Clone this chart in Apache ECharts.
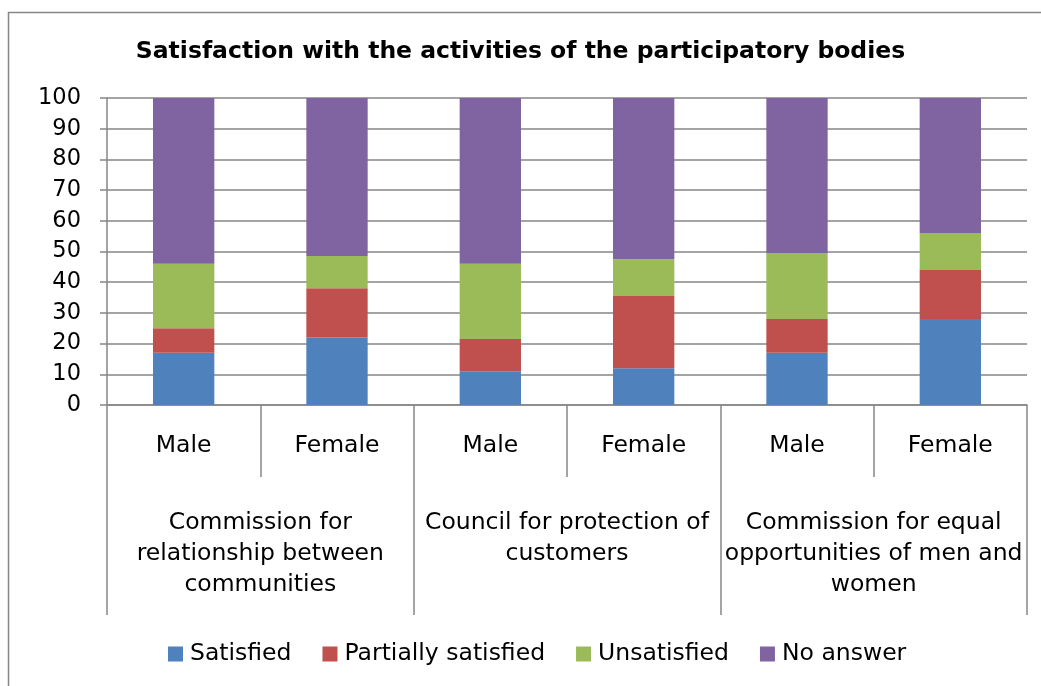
<!DOCTYPE html>
<html>
<head>
<meta charset="utf-8">
<script src="https://cdn.jsdelivr.net/npm/echarts@6/dist/echarts.min.js"></script>
<style>
  html, body { margin: 0; padding: 0; background: #fff; }
  #chart { width: 1041px; height: 686px; }
</style>
</head>
<body>
<div id="chart"></div>
<script>
var genders = ['Male', 'Female', 'Male', 'Female', 'Male', 'Female'];
var bodies = [
    'Commission for\nrelationship between\ncommunities',
    'Council for protection of\ncustomers',
    'Commission for equal\nopportunities of men and\nwomen'
];
var yTicks = [0, 10, 20, 30, 40, 50, 60, 70, 80, 90, 100];

var satisfied = [17, 22, 11, 12, 17, 28];
var partially = [8, 16, 10.5, 23.5, 11, 16];
var unsatisfied = [21, 10.5, 24.5, 12, 21.5, 12];
var noAnswer = [54, 51.5, 54, 52.5, 50.5, 44];

var FONT = '"DejaVu Sans", sans-serif';
var GRID = '#868686';

var chart = echarts.init(document.getElementById('chart'));

function bar(name, data, color) {
    return {
        name: name,
        type: 'bar',
        stack: 'total',
        data: data,
        barWidth: '40%',
        itemStyle: { color: color },
        emphasis: { disabled: true }
    };
}

chart.setOption({
    animation: false,
    textStyle: { fontFamily: FONT },
    title: {
        text: 'Satisfaction with the activities of the participatory bodies',
        left: 'center',
        top: 35,
        textStyle: { fontFamily: FONT, fontSize: 23.5, fontWeight: 'bold', color: '#000' }
    },
    graphic: [{
        type: 'rect',
        shape: { x: 8.5, y: 12.5, width: 1040, height: 680 },
        style: { fill: 'none', stroke: GRID, lineWidth: 1.5 },
        silent: true
    }],
    legend: {
        bottom: 15,
        left: 163,
        itemWidth: 15,
        itemHeight: 15,
        itemGap: 31,
        icon: 'rect',
        textStyle: { fontFamily: FONT, fontSize: 23.5, color: '#000', padding: [0, 0, 0, 2] },
        data: ['Satisfied', 'Partially satisfied', 'Unsatisfied', 'No answer']
    },
    grid: { left: 107, right: 14, top: 98, bottom: 281, containLabel: false },
    xAxis: [{
        type: 'category',
        data: genders,
        position: 'bottom',
        axisLine: { lineStyle: { color: GRID, width: 1.5 } },
        axisTick: { show: true, interval: 0, length: 72, lineStyle: { color: GRID, width: 1.5 } },
        axisLabel: { interval: 0, margin: 29, fontSize: 23.5, color: '#000', fontFamily: FONT }
    }, {
        type: 'category',
        data: bodies,
        position: 'bottom',
        axisLine: { show: false },
        axisTick: { show: true, interval: 0, length: 210, lineStyle: { color: GRID, width: 1.5 } },
        axisLabel: { interval: 0, margin: 102, fontSize: 23.5, lineHeight: 31, color: '#000', fontFamily: FONT, align: 'center' }
    }],
    yAxis: {
        type: 'value',
        min: 0,
        max: 100,
        interval: 10,
        axisLine: { show: true, lineStyle: { color: GRID, width: 1.5 } },
        axisTick: { show: true, length: 7, lineStyle: { color: GRID, width: 1.5 } },
        splitLine: { lineStyle: { color: GRID, width: 1.5 } },
        axisLabel: { margin: 26, fontSize: 22.5, color: '#000', fontFamily: FONT,
            formatter: function (v) { return yTicks.indexOf(v) >= 0 ? String(v) : ''; } }
    },
    series: [
        bar('Satisfied', satisfied, '#4F81BD'),
        bar('Partially satisfied', partially, '#C0504D'),
        bar('Unsatisfied', unsatisfied, '#9BBB59'),
        bar('No answer', noAnswer, '#8064A2')
    ]
});
</script>
</body>
</html>
